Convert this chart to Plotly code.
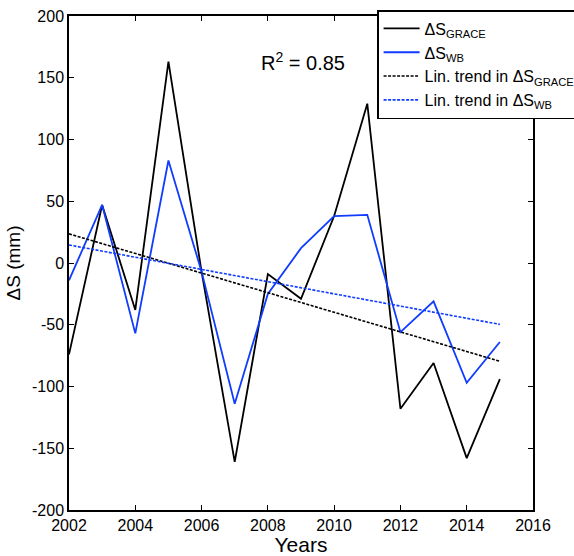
import numpy as np
import plotly.graph_objects as go

years = [2002, 2003, 2004, 2005, 2006, 2007, 2008, 2009, 2010, 2011, 2012, 2013, 2014, 2015]
ds_grace = [-74, 47, -38, 163, -7, -161, -9, -29, 38, 129, -118, -81, -158, -94]
ds_wb = [-14, 47, -57, 83, -7, -114, -25, 12, 38, 39, -56, -31, -97, -64]

x_ticks = [2002, 2004, 2006, 2008, 2010, 2012, 2014, 2016]
y_ticks = [-200, -150, -100, -50, 0, 50, 100, 150, 200]

yrs = np.array(years, dtype=float)
pg = np.polyfit(yrs, ds_grace, 1)
pw = np.polyfit(yrs, ds_wb, 1)
trend_x = [years[0], years[-1]]
trend_g = list(np.polyval(pg, trend_x))
trend_w = list(np.polyval(pw, trend_x))

BLUE = "rgb(15,60,255)"
FONT = "Liberation Sans, Arial, sans-serif"

fig = go.Figure()
fig.add_trace(go.Scatter(x=years, y=ds_grace, mode="lines", name="ΔS<sub>GRACE</sub>",
                         line=dict(color="black", width=1.8)))
fig.add_trace(go.Scatter(x=years, y=ds_wb, mode="lines", name="ΔS<sub>WB</sub>",
                         line=dict(color=BLUE, width=1.8)))
fig.add_trace(go.Scatter(x=trend_x, y=trend_g, mode="lines", name="Lin. trend in ΔS<sub>GRACE</sub>",
                         line=dict(color="black", width=1.6, dash="3px,1.5px")))
fig.add_trace(go.Scatter(x=trend_x, y=trend_w, mode="lines", name="Lin. trend in ΔS<sub>WB</sub>",
                         line=dict(color=BLUE, width=1.6, dash="3px,1.5px")))

fig.add_annotation(x=2009.05, y=163, xref="x", yref="y", text="R<sup>2</sup> = 0.85",
                   showarrow=False, font=dict(size=20, color="black", family=FONT))

axis_common = dict(showgrid=False, zeroline=False, showline=True, linecolor="black", linewidth=1.5,
                   mirror="ticks", ticks="inside", ticklen=5, tickwidth=1.2, tickcolor="black",
                   tickfont=dict(size=16, color="black", family=FONT), automargin=False)

fig.update_xaxes(range=[2002, 2016], tickvals=x_ticks, ticktext=[str(v) for v in x_ticks],
                 title=dict(text="Years", font=dict(size=21, color="black", family=FONT), standoff=4),
                 **axis_common)
fig.update_yaxes(range=[-200, 200], tickvals=y_ticks, ticktext=[str(v) for v in y_ticks],
                 title=dict(text="ΔS (mm)", font=dict(size=19, color="black", family=FONT), standoff=6),
                 **axis_common)

fig.update_layout(
    width=574, height=556,
    margin=dict(l=69, r=41, t=16, b=46, autoexpand=False),
    plot_bgcolor="white", paper_bgcolor="white",
    font=dict(family=FONT, color="black"),
    legend=dict(x=0.664, y=1.012, xanchor="left", yanchor="top", xref="paper", yref="paper",
                bgcolor="white", bordercolor="black", borderwidth=1.5,
                font=dict(size=16, color="black", family=FONT),
                tracegroupgap=0, itemwidth=36),
    showlegend=True,
)

fig.write_html("out.html")
